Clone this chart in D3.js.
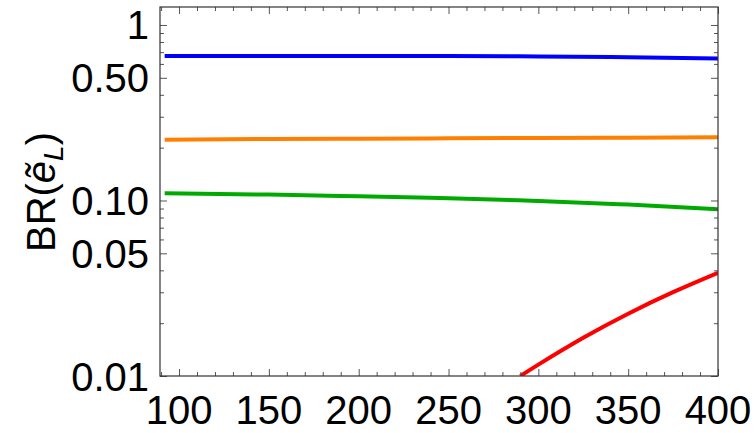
<!DOCTYPE html>
<html>
<head>
<meta charset="utf-8">
<script src="https://cdn.jsdelivr.net/npm/d3@7"></script>
<style>
  html, body { margin: 0; padding: 0; background: #fff; }
  svg { display: block; font-family: "Liberation Sans", Arial, sans-serif; }
</style>
</head>
<body>
<svg id="chart" width="755" height="433"></svg>
<script>
// ---- data ----
const massMain = [92, 150, 200, 250, 300, 350, 400];
const brBlue   = [0.666, 0.666, 0.666, 0.665, 0.662, 0.655, 0.645];
const brOrange = [0.222, 0.224, 0.225, 0.226, 0.227, 0.228, 0.229];
const brGreen  = [0.110, 0.108, 0.1057, 0.103, 0.0994, 0.0948, 0.0892];
const massRed  = [290, 300, 325, 350, 375, 400];
const brRed    = [0.0100, 0.01161, 0.0165, 0.02265, 0.03003, 0.0387];

const xMajorTicks = [100, 150, 200, 250, 300, 350, 400];
const xTickLabels = ["100", "150", "200", "250", "300", "350", "400"];
const yMajorTicks = [1, 0.5, 0.1, 0.05, 0.01];
const yTickLabels = ["1", "0.50", "0.10", "0.05", "0.01"];
const yMinorTicks = [0.9, 0.8, 0.7, 0.6, 0.4, 0.3, 0.2, 0.09, 0.08, 0.07, 0.06, 0.04, 0.03, 0.02];

const seriesList = [
  { x: massMain, y: brBlue,   color: "#0000ff" },
  { x: massMain, y: brOrange, color: "#ff8000" },
  { x: massMain, y: brGreen,  color: "#00aa00" },
  { x: massRed,  y: brRed,    color: "#ff0000" }
];

// ---- layout ----
const plot = { left: 160, right: 718, top: 7, bottom: 376 };
const svg = d3.select("#chart");

const x = d3.scaleLinear().domain([89.4, 400]).range([plot.left, plot.right]);
const y = d3.scaleLog().domain([0.01, 1.266]).range([plot.bottom, plot.top]);

const xMinorTicks = d3.range(90, 401, 10).filter(v => v % 50 !== 0);

// clip
svg.append("defs").append("clipPath").attr("id", "clip")
  .append("rect").attr("x", plot.left).attr("y", plot.top)
  .attr("width", plot.right - plot.left).attr("height", plot.bottom - plot.top);

// curves
const line = d3.line().curve(d3.curveNatural);
const gLines = svg.append("g").attr("clip-path", "url(#clip)");
seriesList.forEach(s => {
  const pts = s.x.map((m, i) => [x(m), y(s.y[i])]);
  gLines.append("path")
    .attr("d", line(pts))
    .attr("fill", "none")
    .attr("stroke", s.color)
    .attr("stroke-width", 4)
    .attr("stroke-linecap", "butt");
});

// axes (ticks inward, mirrored)
const tickColor = "#555";
function addAxis(axisGen, tx, ty, len) {
  const g = svg.append("g").attr("transform", `translate(${tx},${ty})`)
    .call(axisGen.tickSizeInner(-len).tickSizeOuter(0).tickFormat(""));
  g.select(".domain").remove();
  g.selectAll(".tick line").attr("stroke", tickColor).attr("stroke-width", 1);
  return g;
}
// bottom
addAxis(d3.axisBottom(x).tickValues(xMajorTicks), 0, plot.bottom, 7);
addAxis(d3.axisBottom(x).tickValues(xMinorTicks), 0, plot.bottom, 4);
// top
addAxis(d3.axisTop(x).tickValues(xMajorTicks), 0, plot.top, 7);
addAxis(d3.axisTop(x).tickValues(xMinorTicks), 0, plot.top, 4);
// left
addAxis(d3.axisLeft(y).tickValues(yMajorTicks), plot.left, 0, 7);
addAxis(d3.axisLeft(y).tickValues(yMinorTicks), plot.left, 0, 4);
// right
addAxis(d3.axisRight(y).tickValues(yMajorTicks), plot.right, 0, 7);
addAxis(d3.axisRight(y).tickValues(yMinorTicks), plot.right, 0, 4);

// frame
svg.append("rect")
  .attr("x", plot.left).attr("y", plot.top)
  .attr("width", plot.right - plot.left).attr("height", plot.bottom - plot.top)
  .attr("fill", "none").attr("stroke", "#333").attr("stroke-width", 1.2);

// tick labels
const fs = 40;
svg.append("g").selectAll("text").data(xMajorTicks).join("text")
  .attr("x", d => x(d)).attr("y", 424)
  .attr("text-anchor", "middle")
  .attr("font-size", fs).attr("fill", "#000")
  .text((d, i) => xTickLabels[i]);

svg.append("g").selectAll("text").data(yMajorTicks).join("text")
  .attr("x", 149).attr("y", d => y(d) + 14.5)
  .attr("text-anchor", "end")
  .attr("font-size", fs).attr("fill", "#000")
  .text((d, i) => yTickLabels[i]);

// y axis title: BR(ẽ_L)
const title = svg.append("text")
  .attr("transform", "translate(55,192) rotate(-90)")
  .attr("text-anchor", "middle")
  .attr("font-size", 40).attr("fill", "#000");
title.append("tspan").text("BR(");
title.append("tspan").attr("font-style", "italic").text("ẽ");
title.append("tspan").attr("font-style", "italic").attr("font-size", 28).attr("dy", 8).text("L");
title.append("tspan").attr("dy", -8).text(")");
</script>
</body>
</html>
